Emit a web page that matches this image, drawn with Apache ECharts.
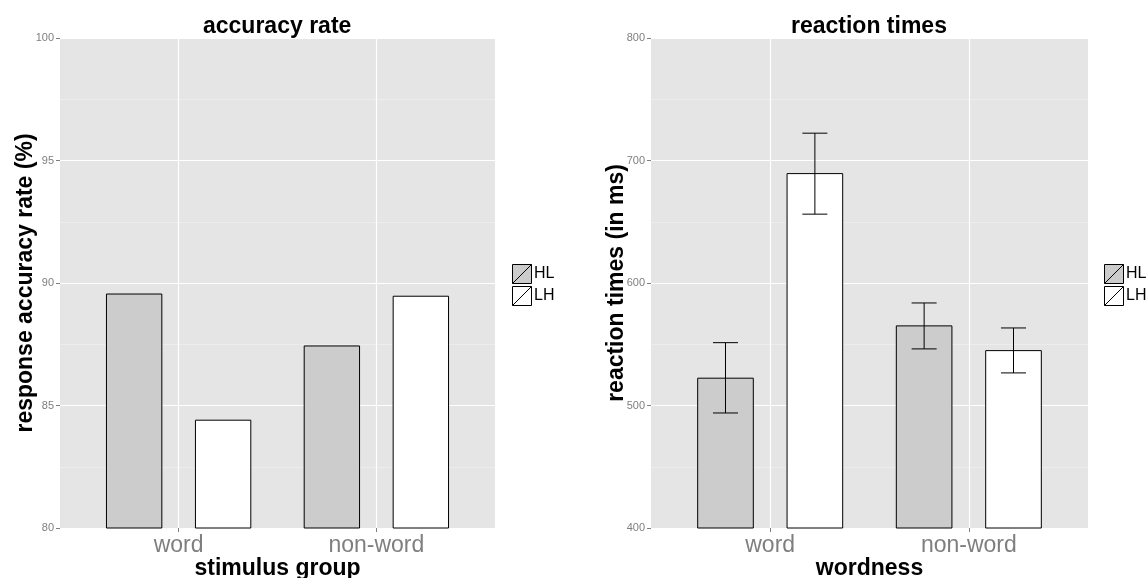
<!DOCTYPE html>
<html>
<head>
<meta charset="utf-8">
<script src="https://cdn.jsdelivr.net/npm/echarts@6/dist/echarts.min.js"></script>
<style>html,body{margin:0;padding:0;background:#fff;}#c{width:1148px;height:578px;}</style>
</head>
<body>
<div id="c"></div>
<script>
// ---- data ----
var categories = ['word', 'non-word'];
var groups = ['HL', 'LH'];
// accuracy rate (%)
var accHL = [89.55, 87.43];
var accLH = [84.4, 89.46];
// reaction times (ms): mean, lower, upper
var rtHL = [522.3, 565.0];
var rtHLlo = [493.9, 546.2];
var rtHLhi = [551.3, 583.7];
var rtLH = [689.3, 544.8];
var rtLHlo = [656.2, 526.6];
var rtLHhi = [722.3, 563.3];
var accTicks = [80, 85, 90, 95, 100];
var rtTicks = [400, 500, 600, 700, 800];

// ---- styles ----
var FONT = 'Liberation Sans';
var GREY = '#7f7f7f';
var BAR_W = 0.28, CAP_W = 0.126, DODGE = 0.225;
var fills = {HL: '#cccccc', LH: '#ffffff'};

function rows(vals, lo, hi) {
  return vals.map(function (v, i) {
    return lo ? [i + 1, v, lo[i], hi[i]] : [i + 1, v];
  });
}

function makeRender(offset, fill, hasErr, yMin) {
  return function (params, api) {
    var x = api.value(0) + offset;
    var top = api.coord([x, api.value(1)]);
    var base = api.coord([x, yMin]);
    var w = api.size([BAR_W, 0])[0];
    var children = [{
      type: 'rect',
      shape: {x: top[0] - w / 2, y: top[1], width: w, height: base[1] - top[1]},
      style: {fill: fill, stroke: '#000', lineWidth: 1}
    }];
    if (hasErr) {
      var lo = api.coord([x, api.value(2)]);
      var hi = api.coord([x, api.value(3)]);
      var cw = api.size([CAP_W, 0])[0];
      var ls = {stroke: '#000', lineWidth: 1};
      children.push({type: 'line', shape: {x1: lo[0], y1: lo[1], x2: hi[0], y2: hi[1]}, style: ls});
      children.push({type: 'line', shape: {x1: lo[0] - cw / 2, y1: lo[1], x2: lo[0] + cw / 2, y2: lo[1]}, style: ls});
      children.push({type: 'line', shape: {x1: hi[0] - cw / 2, y1: hi[1], x2: hi[0] + cw / 2, y2: hi[1]}, style: ls});
    }
    return {type: 'group', children: children};
  };
}

function xAxisCfg(gridIndex, name) {
  return {
    type: 'value', gridIndex: gridIndex, min: 0.4, max: 2.6,
    name: name, nameLocation: 'middle', nameGap: 29, nameMoveOverlap: false,
    nameTextStyle: {fontFamily: FONT, fontSize: 23, fontWeight: 'bold', color: '#000'},
    axisLine: {show: false},
    axisTick: {show: true, length: 4, customValues: [1, 2], lineStyle: {color: GREY, width: 1}},
    axisLabel: {customValues: [1, 2], margin: 6, fontFamily: FONT, fontSize: 23, color: GREY,
      formatter: function (v) { return categories[Math.round(v) - 1] || ''; }},
    splitLine: {show: true, lineStyle: {color: '#ffffff', width: 1.2}},
    minorSplitLine: {show: false}
  };
}

function yAxisCfg(gridIndex, name, ticks) {
  return {
    type: 'value', gridIndex: gridIndex,
    min: ticks[0], max: ticks[ticks.length - 1], interval: ticks[1] - ticks[0],
    name: name, nameLocation: 'middle', nameGap: 23, nameRotate: 90, nameMoveOverlap: false,
    nameTextStyle: {fontFamily: FONT, fontSize: 23, fontWeight: 'bold', color: '#000'},
    axisLine: {show: false},
    axisTick: {show: true, length: 4, lineStyle: {color: GREY, width: 1}},
    axisLabel: {margin: 6, fontFamily: FONT, fontSize: 11, color: GREY},
    splitLine: {show: true, lineStyle: {color: '#ffffff', width: 1.2}},
    minorTick: {show: false, splitNumber: 2},
    minorSplitLine: {show: true, lineStyle: {color: '#f2f2f2', width: 0.6}}
  };
}

function legendCfg(left) {
  return {
    orient: 'vertical', left: left, top: 264, padding: 0,
    itemWidth: 20, itemHeight: 19, itemGap: 2,
    icon: 'path://M0,0L20,0L20,20L0,20Z M0,20L20,0',
    textStyle: {fontFamily: FONT, fontSize: 16, color: '#000', padding: [0, 0, 0, -3]},
    selectedMode: false,
    data: groups.map(function (g) {
      return {name: g, itemStyle: {color: fills[g], borderColor: '#000', borderWidth: 1}};
    })
  };
}

var option = {
  animation: false,
  backgroundColor: '#ffffff',
  title: [
    {text: 'accuracy rate', left: 203, top: 15, padding: 0,
      textStyle: {fontFamily: FONT, fontSize: 23, fontWeight: 'bold', color: '#000'}},
    {text: 'reaction times', left: 791, top: 15, padding: 0,
      textStyle: {fontFamily: FONT, fontSize: 23, fontWeight: 'bold', color: '#000'}}
  ],
  legend: [legendCfg(512), legendCfg(1104)],
  grid: [
    {left: 60, top: 38, width: 435, height: 490, show: true, backgroundColor: '#e5e5e5', borderWidth: 0,
      containLabel: false, outerBoundsMode: 'none'},
    {left: 651, top: 38, width: 437, height: 490, show: true, backgroundColor: '#e5e5e5', borderWidth: 0,
      containLabel: false, outerBoundsMode: 'none'}
  ],
  xAxis: [xAxisCfg(0, 'stimulus group'), xAxisCfg(1, 'wordness')],
  yAxis: [yAxisCfg(0, 'response accuracy rate (%)', accTicks), yAxisCfg(1, 'reaction times (in ms)', rtTicks)],
  series: [
    {type: 'custom', name: 'HL', xAxisIndex: 0, yAxisIndex: 0, itemStyle: {color: fills.HL},
      renderItem: makeRender(-DODGE, fills.HL, false, accTicks[0]), data: rows(accHL)},
    {type: 'custom', name: 'LH', xAxisIndex: 0, yAxisIndex: 0, itemStyle: {color: fills.LH},
      renderItem: makeRender(DODGE, fills.LH, false, accTicks[0]), data: rows(accLH)},
    {type: 'custom', name: 'HL', xAxisIndex: 1, yAxisIndex: 1, itemStyle: {color: fills.HL},
      renderItem: makeRender(-DODGE, fills.HL, true, rtTicks[0]), data: rows(rtHL, rtHLlo, rtHLhi)},
    {type: 'custom', name: 'LH', xAxisIndex: 1, yAxisIndex: 1, itemStyle: {color: fills.LH},
      renderItem: makeRender(DODGE, fills.LH, true, rtTicks[0]), data: rows(rtLH, rtLHlo, rtLHhi)}
  ]
};

var chart = echarts.init(document.getElementById('c'), null, {renderer: 'canvas'});
chart.setOption(option);
</script>
</body>
</html>
